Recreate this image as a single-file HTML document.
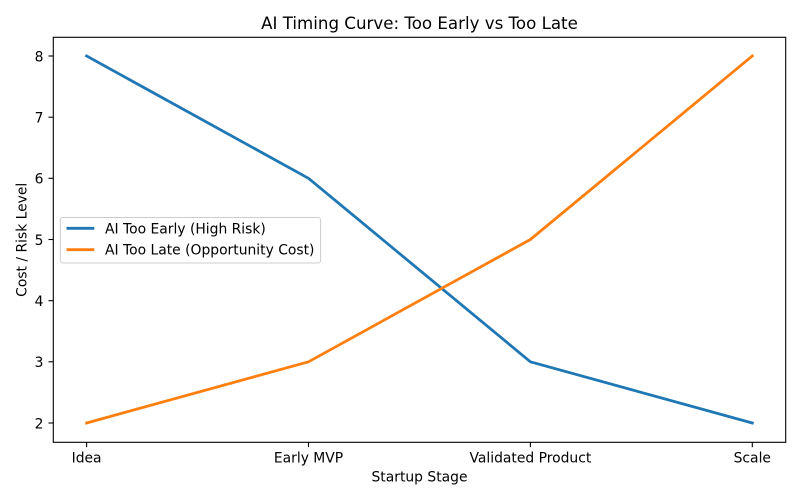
<!DOCTYPE html>
<html><head><meta charset="utf-8"><style>
html,body{margin:0;padding:0;background:#fff;}
svg{display:block;}
text{font-family:"DejaVu Sans","Liberation Sans",sans-serif;fill:#000;}
</style></head><body>
<svg width="800" height="500" viewBox="0 0 800 500" xmlns="http://www.w3.org/2000/svg">
<rect width="800" height="500" fill="#fff"/>
<text x="419.5" y="29" font-size="16.67" text-anchor="middle">AI Timing Curve: Too Early vs Too Late</text>
<!-- lines -->
<polyline points="86.6,56 308.5,178.3 530.4,361.8 752.3,423" fill="none" stroke="#1f77b4" stroke-width="2.78" stroke-linejoin="round" stroke-linecap="square"/>
<polyline points="86.6,423 308.5,361.8 530.4,239.5 752.3,56" fill="none" stroke="#ff7f0e" stroke-width="2.78" stroke-linejoin="round" stroke-linecap="square"/>
<!-- axes frame -->
<rect x="53.3" y="37.3" width="732.4" height="405" fill="none" stroke="#000" stroke-width="1.1"/>
<!-- ticks -->
<g stroke="#000" stroke-width="1.1">
<line x1="48.5" y1="56" x2="53.3" y2="56"/>
<line x1="48.5" y1="117.2" x2="53.3" y2="117.2"/>
<line x1="48.5" y1="178.3" x2="53.3" y2="178.3"/>
<line x1="48.5" y1="239.5" x2="53.3" y2="239.5"/>
<line x1="48.5" y1="300.7" x2="53.3" y2="300.7"/>
<line x1="48.5" y1="361.8" x2="53.3" y2="361.8"/>
<line x1="48.5" y1="423" x2="53.3" y2="423"/>
<line x1="86.6" y1="442.3" x2="86.6" y2="447.2"/>
<line x1="308.5" y1="442.3" x2="308.5" y2="447.2"/>
<line x1="530.4" y1="442.3" x2="530.4" y2="447.2"/>
<line x1="752.3" y1="442.3" x2="752.3" y2="447.2"/>
</g>
<g font-size="13.89" text-anchor="end">
<text x="43.5" y="61.3">8</text>
<text x="43.5" y="122.5">7</text>
<text x="43.5" y="183.6">6</text>
<text x="43.5" y="244.8">5</text>
<text x="43.5" y="306">4</text>
<text x="43.5" y="367.1">3</text>
<text x="43.5" y="428.3">2</text>
</g>
<g font-size="13.89" text-anchor="middle">
<text x="86.6" y="462.3">Idea</text>
<text x="308.5" y="462.3">Early MVP</text>
<text x="530.4" y="462.3">Validated Product</text>
<text x="752.3" y="462.3">Scale</text>
<text x="419.5" y="481.5">Startup Stage</text>
<text transform="translate(26.5,239.8) rotate(-90)">Cost / Risk Level</text>
</g>
<!-- legend -->
<rect x="60.3" y="217.5" width="260.3" height="45.5" rx="2.5" fill="#fff" fill-opacity="0.8" stroke="#cccccc" stroke-width="1"/>
<line x1="66.5" y1="228.3" x2="94.3" y2="228.3" stroke="#1f77b4" stroke-width="2.78"/>
<line x1="66.5" y1="249.7" x2="94.3" y2="249.7" stroke="#ff7f0e" stroke-width="2.78"/>
<g font-size="13.89">
<text x="105" y="233.3">AI Too Early (High Risk)</text>
<text x="105" y="254.7">AI Too Late (Opportunity Cost)</text>
</g>
</svg>
</body></html>
